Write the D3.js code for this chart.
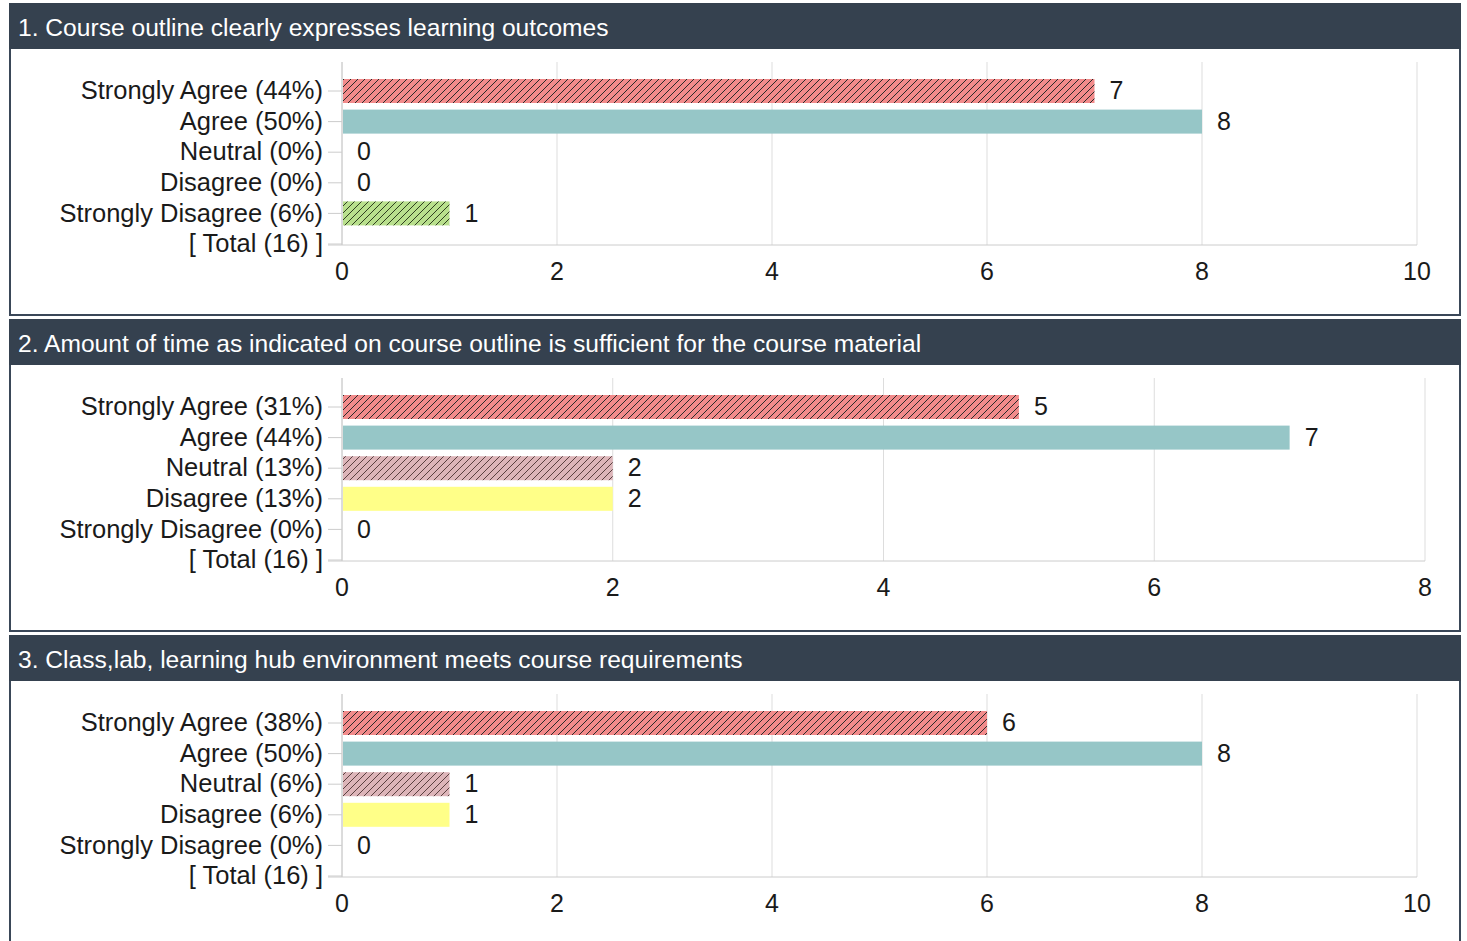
<!DOCTYPE html>
<html>
<head>
<meta charset="utf-8">
<script src="https://cdnjs.cloudflare.com/ajax/libs/d3/7.8.5/d3.min.js"></script>
<style>
  body { margin: 0; background: #fff; }
  text { font-family: Arial, "Liberation Sans", sans-serif; }
</style>
</head>
<body>
<div id="charts"></div>
<script>
// survey data
var questions = [
    "1. Course outline clearly expresses learning outcomes",
    "2. Amount of time as indicated on course outline is sufficient for the course material",
    "3. Class,lab, learning hub environment meets course requirements"
];
var categories = ["Strongly Agree", "Agree", "Neutral", "Disagree", "Strongly Disagree"];
var counts1 = [7, 8, 0, 0, 1];
var counts2 = [5, 7, 2, 2, 0];
var counts3 = [6, 8, 1, 1, 0];
var totals = [16, 16, 16];
var xTicks1 = [0, 2, 4, 6, 8, 10];
var xTicks2 = [0, 2, 4, 6, 8];
var xTicks3 = [0, 2, 4, 6, 8, 10];

var allCounts = [counts1, counts2, counts3];
var allTicks = [xTicks1, xTicks2, xTicks3];

// look of each answer
var fills = ["#f28b8b", "#96c6c7", "#ddb5b9", "#ffff88", "#b9e08d"];
var hatched = [true, false, true, false, true];
var hatchColor = ["#2a2a2a", null, "#5a4040", null, "#2f4020"];

var width = 1467, height = 941;
var panelTops = [3, 319, 635];
var plotRight = [1417, 1425, 1417];

var svg = d3.select("#charts").append("svg")
    .attr("width", width)
    .attr("height", height);

var defs = svg.append("defs");
fills.forEach(function(c, i) {
    if (!hatched[i]) return;
    var p = defs.append("pattern")
        .attr("id", "hatch" + i)
        .attr("patternUnits", "userSpaceOnUse")
        .attr("width", 7).attr("height", 7);
    p.append("rect").attr("width", 7).attr("height", 7).attr("fill", c);
    p.append("path")
        .attr("d", "M-1,1 l2,-2 M0,7 l7,-7 M6,8 l2,-2")
        .attr("stroke", hatchColor[i])
        .attr("stroke-width", 1);
});

questions.forEach(function(q, k) {
    var top = panelTops[k];
    var counts = allCounts[k];
    var total = totals[k];
    var g = svg.append("g").attr("transform", "translate(0," + top + ")");

    // panel frame + header
    g.append("rect")
        .attr("x", 10).attr("y", 1)
        .attr("width", 1450).attr("height", 311)
        .attr("fill", "#fff")
        .attr("stroke", "#3a4758")
        .attr("stroke-width", 2);
    g.append("rect")
        .attr("x", 9).attr("y", 0)
        .attr("width", 1452).attr("height", 46)
        .attr("fill", "#35414f");
    g.append("text")
        .attr("x", 18).attr("y", 26)
        .attr("dominant-baseline", "middle")
        .attr("fill", "#fff")
        .style("font-size", "24.6px")
        .text(q);

    var labels = categories.map(function(c, i) {
        return c + " (" + Math.round(counts[i] / total * 100) + "%)";
    });
    labels.push("[ Total (" + total + ") ]");

    var ticks = allTicks[k];
    var x = d3.scaleLinear()
        .domain([0, d3.max(ticks)])
        .range([342, plotRight[k]]);
    var y = d3.scalePoint()
        .domain(labels)
        .range([88, 241]);

    var plotTop = 59, plotBottom = 242;

    // gridlines
    g.selectAll(".grid")
        .data(ticks)
        .enter().append("line")
        .attr("x1", function(d) { return x(d); })
        .attr("x2", function(d) { return x(d); })
        .attr("y1", plotTop).attr("y2", plotBottom)
        .attr("stroke", function(d) { return d === 0 ? "#b8b8b8" : "#dddddd"; })
        .attr("stroke-width", 1);

    // baseline
    g.append("line")
        .attr("x1", 328).attr("x2", x(d3.max(ticks)))
        .attr("y1", plotBottom).attr("y2", plotBottom)
        .attr("stroke", "#cccccc");

    // x tick labels
    g.selectAll(".xlab")
        .data(ticks)
        .enter().append("text")
        .attr("x", function(d) { return x(d); })
        .attr("y", 270)
        .attr("text-anchor", "middle")
        .attr("dominant-baseline", "middle")
        .attr("fill", "#1a1a1a")
        .style("font-size", "25px")
        .text(function(d) { return d; });

    // category ticks + labels
    g.selectAll(".ytick")
        .data(labels)
        .enter().append("line")
        .attr("x1", 328).attr("x2", 342)
        .attr("y1", function(d) { return y(d); })
        .attr("y2", function(d) { return y(d); })
        .attr("stroke", "#cccccc");
    g.selectAll(".ylab")
        .data(labels)
        .enter().append("text")
        .attr("x", 323)
        .attr("y", function(d) { return y(d) + 1.5; })
        .attr("text-anchor", "end")
        .attr("dominant-baseline", "middle")
        .attr("fill", "#1a1a1a")
        .style("font-size", "25.5px")
        .text(function(d) { return d; });

    // bars
    var rows = counts.map(function(v, i) { return { v: v, i: i, lab: labels[i] }; });
    g.selectAll(".bar")
        .data(rows.filter(function(d) { return d.v > 0; }))
        .enter().append("rect")
        .attr("x", x(0) + 1)
        .attr("y", function(d) { return y(d.lab) - 12; })
        .attr("width", function(d) { return x(d.v) - x(0) - 1; })
        .attr("height", 24)
        .attr("fill", function(d) { return hatched[d.i] ? "url(#hatch" + d.i + ")" : fills[d.i]; });

    // value labels
    g.selectAll(".val")
        .data(rows)
        .enter().append("text")
        .attr("x", function(d) { return x(d.v) + 15; })
        .attr("y", function(d) { return y(d.lab) + 1.5; })
        .attr("dominant-baseline", "middle")
        .attr("fill", "#1a1a1a")
        .style("font-size", "25px")
        .text(function(d) { return d.v; });
});
</script>
</body>
</html>
